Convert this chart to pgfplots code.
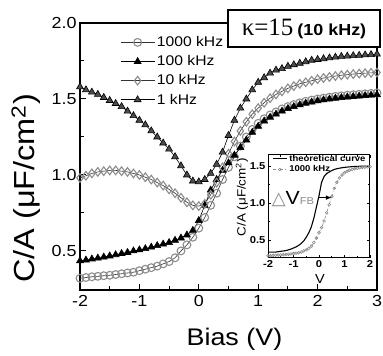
\documentclass[border=0pt]{standalone}
\usepackage{pgfplots}
\pgfplotsset{compat=1.18}
\usepackage{fontspec}
\setmainfont{Liberation Sans}[FakeStretch=1.12]
\newfontfamily\seriffont{Liberation Serif}
\newfontfamily\symfont{DejaVu Sans}
\begin{document}
\begin{tikzpicture}
\useasboundingbox (0,0) rectangle (383pt,356pt);
\begin{axis}[
  at={(80pt,66pt)}, anchor=south west, scale only axis,
  width=297pt, height=267pt,
  xmin=-2, xmax=3, ymin=0.243, ymax=2.0,
  xtick={-2,-1,0,1,2,3}, minor xtick={-1.5,-0.5,0.5,1.5,2.5},
  ytick={0.5,1.0,1.5,2.0}, minor ytick={0.75,1.25,1.75},
  xtick pos=bottom, ytick pos=left, tick align=inside,
  major tick length=6pt, minor tick length=4pt,
  tick style={black, line width=1pt},
  axis line style={line width=1.3pt},
  /pgf/number format/assume math mode=true,
  yticklabel style={/pgf/number format/fixed, /pgf/number format/fixed zerofill, /pgf/number format/precision=1},
  tick label style={font=\fontsize{16}{16}\selectfont},
  xticklabel style={yshift=-2pt},
  xlabel={Bias (V)},
  ylabel={C/A (μF/cm\textsuperscript{2})},
  xlabel style={font=\fontsize{24}{24}\selectfont, at={(axis description cs:0.52,-0.185)}, anchor=center},
  ylabel style={font=\fontsize{29}{29}\selectfont, at={(axis description cs:-0.182,0.38)}, anchor=center},
  legend cell align=left,
  legend style={at={(axis description cs:0.125,0.965)}, anchor=north west, draw=none, fill=none,
    font=\fontsize{14}{20}\selectfont, row sep=3.5pt},
  legend image code/.code={\draw[mark repeat=2,mark phase=2,#1] plot coordinates {(0pt,0pt) (17pt,0pt) (34pt,0pt)};},
]
% 1000 kHz
\addplot[black!80, line width=0.6pt, mark=o, mark size=3.9pt, mark options={draw=black!45, fill=white, line width=1.1pt}] coordinates {
(-2.0,0.32)(-1.9,0.325)(-1.8,0.33)(-1.7,0.333)(-1.6,0.337)(-1.5,0.34)(-1.4,0.345)(-1.3,0.35)(-1.2,0.355)(-1.1,0.36)
(-1.0,0.37)(-0.9,0.38)(-0.8,0.39)(-0.7,0.40)(-0.6,0.415)(-0.5,0.43)(-0.4,0.455)(-0.3,0.50)(-0.2,0.54)(-0.1,0.59)
(0.0,0.65)(0.1,0.72)(0.2,0.80)(0.3,0.88)(0.4,0.97)(0.5,1.05)(0.6,1.12)(0.7,1.19)(0.8,1.25)(0.9,1.30)
(1.0,1.34)(1.1,1.37)(1.2,1.395)(1.3,1.415)(1.4,1.435)(1.5,1.45)(1.6,1.463)(1.7,1.475)(1.8,1.485)(1.9,1.493)
(2.0,1.50)(2.1,1.506)(2.2,1.512)(2.3,1.517)(2.4,1.521)(2.5,1.525)(2.6,1.528)(2.7,1.531)(2.8,1.534)(2.9,1.537)(3.0,1.54)
};
\addlegendentry{1000 kHz}
% 100 kHz
\addplot[black, line width=0.6pt, mark=triangle*, mark size=4pt, mark options={fill=black}] coordinates {
(-2.0,0.435)(-1.9,0.44)(-1.8,0.447)(-1.7,0.453)(-1.6,0.46)(-1.5,0.467)(-1.4,0.475)(-1.3,0.483)(-1.2,0.49)(-1.1,0.50)
(-1.0,0.507)(-0.9,0.515)(-0.8,0.525)(-0.7,0.535)(-0.6,0.545)(-0.5,0.555)(-0.4,0.57)(-0.3,0.585)(-0.2,0.605)(-0.1,0.635)
(0.0,0.70)(0.1,0.80)(0.2,0.90)(0.3,0.97)(0.4,1.03)(0.5,1.08)(0.6,1.13)(0.7,1.18)(0.8,1.23)(0.9,1.28)
(1.0,1.32)(1.1,1.355)(1.2,1.38)(1.3,1.40)(1.4,1.42)(1.5,1.437)(1.6,1.45)(1.7,1.462)(1.8,1.472)(1.9,1.48)
(2.0,1.488)(2.1,1.494)(2.2,1.50)(2.3,1.505)(2.4,1.509)(2.5,1.513)(2.6,1.516)(2.7,1.519)(2.8,1.522)(2.9,1.525)(3.0,1.528)
};
\addlegendentry{100 kHz}
% 10 kHz
\addplot[black!80, line width=0.6pt, mark=diamond, mark size=4.3pt, mark options={draw=black!45, fill=white, line width=1.1pt}] coordinates {
(-2.0,0.98)(-1.9,0.995)(-1.8,1.01)(-1.7,1.02)(-1.6,1.025)(-1.5,1.03)(-1.4,1.03)(-1.3,1.025)(-1.2,1.02)(-1.1,1.01)
(-1.0,1.0)(-0.9,0.985)(-0.8,0.97)(-0.7,0.95)(-0.6,0.93)(-0.5,0.905)(-0.4,0.88)(-0.3,0.85)(-0.2,0.82)(-0.1,0.80)
(0.0,0.795)(0.1,0.81)(0.2,0.87)(0.3,0.95)(0.4,1.05)(0.5,1.14)(0.6,1.22)(0.7,1.29)(0.8,1.35)(0.9,1.40)
(1.0,1.44)(1.1,1.475)(1.2,1.505)(1.3,1.53)(1.4,1.55)(1.5,1.57)(1.6,1.585)(1.7,1.60)(1.8,1.61)(1.9,1.62)
(2.0,1.63)(2.1,1.638)(2.2,1.645)(2.3,1.651)(2.4,1.656)(2.5,1.66)(2.6,1.664)(2.7,1.667)(2.8,1.67)(2.9,1.672)(3.0,1.674)
};
\addlegendentry{10 kHz}
% 1 kHz
\addplot[black, line width=0.6pt, mark=triangle*, mark size=4pt, mark options={fill=black!70, draw=black}] coordinates {
(-2.0,1.58)(-1.9,1.56)(-1.8,1.545)(-1.7,1.53)(-1.6,1.51)(-1.5,1.49)(-1.4,1.47)(-1.3,1.45)(-1.2,1.42)(-1.1,1.39)
(-1.0,1.36)(-0.9,1.33)(-0.8,1.29)(-0.7,1.25)(-0.6,1.21)(-0.5,1.17)(-0.4,1.12)(-0.3,1.06)(-0.2,1.00)(-0.1,0.96)
(0.0,0.955)(0.1,0.97)(0.2,1.01)(0.3,1.07)(0.4,1.15)(0.5,1.26)(0.6,1.36)(0.7,1.44)(0.8,1.50)(0.9,1.56)
(1.0,1.61)(1.1,1.64)(1.2,1.67)(1.3,1.69)(1.4,1.70)(1.5,1.715)(1.6,1.725)(1.7,1.735)(1.8,1.745)(1.9,1.755)
(2.0,1.76)(2.1,1.765)(2.2,1.77)(2.3,1.775)(2.4,1.78)(2.5,1.782)(2.6,1.785)(2.7,1.787)(2.8,1.79)(2.9,1.792)(3.0,1.795)
};
\addlegendentry{1 kHz}
\end{axis}

\node[draw, line width=1.3pt, fill=white, minimum width=152pt, minimum height=37pt, inner sep=0pt]
  at (304pt,327.5pt) {{\seriffont\fontsize{25}{25}\selectfont κ=15}\hspace{4pt}{\bfseries\fontsize{16}{16}\selectfont (10 kHz)}};

\begin{axis}[
  at={(268pt,98pt)}, anchor=south west, scale only axis,
  width=102pt, height=103pt,
  xmin=-2, xmax=2, ymin=0.26, ymax=1.65,
  xtick={-2,-1,0,1,2}, minor xtick={-1.5,-0.5,0.5,1.5},
  ytick={0.5,1.0,1.5}, minor ytick={0.75,1.25},
  tick align=inside, major tick length=3pt, minor tick length=2pt,
  tick style={black, line width=0.7pt},
  axis line style={line width=1pt},
  axis background/.style={fill=white},
  /pgf/number format/assume math mode=true,
  yticklabel style={xshift=1pt, /pgf/number format/fixed, /pgf/number format/fixed zerofill, /pgf/number format/precision=1},
  tick label style={font=\bfseries\fontsize{10}{10}\selectfont},
  xticklabel style={yshift=1pt},
  xlabel={V},
  ylabel={C/A (μF/cm\textsuperscript{2})},
  xlabel style={font=\fontsize{13}{13}\selectfont, at={(axis description cs:0.51,-0.2)}, anchor=center},
  ylabel style={font=\fontsize{12}{12}\selectfont, at={(axis description cs:-0.255,0.59)}, anchor=center},
  legend cell align=left,
  legend style={at={(axis description cs:0.03,1.03)}, anchor=north west, draw=none, fill=none,
    font=\bfseries\fontsize{8.5}{10}\selectfont, inner sep=1pt, row sep=-1pt},
  legend image code/.code={\draw[mark repeat=2,mark phase=2,#1] plot coordinates {(0pt,0pt) (7pt,0pt) (14pt,0pt)};},
]
\addplot[black, line width=1.1pt, no marks] coordinates {
(-2.0,0.34)(-1.9,0.34)(-1.8,0.34)(-1.7,0.34)(-1.6,0.345)(-1.5,0.35)(-1.4,0.355)(-1.3,0.36)(-1.2,0.37)(-1.1,0.38)
(-1.0,0.395)(-0.9,0.41)(-0.8,0.43)(-0.7,0.455)(-0.6,0.49)(-0.5,0.54)(-0.4,0.60)(-0.3,0.68)(-0.2,0.80)(-0.1,0.95)
(0.0,1.10)(0.1,1.28)(0.2,1.36)(0.3,1.40)(0.4,1.42)(0.5,1.44)(0.6,1.455)(0.7,1.465)(0.8,1.472)(0.9,1.478)
(1.0,1.483)(1.2,1.49)(1.4,1.495)(1.6,1.498)(1.8,1.50)(2.0,1.50)
};
\addlegendentry{theoretical curve}
\addplot[black!45, line width=0.6pt, dash dot, mark=o, mark size=1.4pt, mark options={solid, draw=black!45, line width=0.6pt}] coordinates {
(-2.0,0.29)(-1.9,0.292)(-1.8,0.295)(-1.7,0.297)(-1.6,0.30)(-1.5,0.302)(-1.4,0.305)(-1.3,0.307)(-1.2,0.31)(-1.1,0.315)
(-1.0,0.32)(-0.9,0.325)(-0.8,0.33)(-0.7,0.34)(-0.6,0.355)(-0.5,0.37)(-0.4,0.39)(-0.3,0.42)(-0.2,0.47)(-0.1,0.53)
(0.0,0.60)(0.1,0.67)(0.2,0.76)(0.3,0.87)(0.4,0.98)(0.5,1.09)(0.6,1.20)(0.7,1.28)(0.8,1.34)(0.9,1.38)
(1.0,1.41)(1.1,1.43)(1.2,1.445)(1.3,1.455)(1.4,1.465)(1.5,1.472)(1.6,1.478)(1.7,1.483)(1.8,1.487)(1.9,1.49)(2.0,1.492)
};
\addlegendentry{1000 kHz}
\draw[black, line width=1pt, -latex] (axis cs:0.0,1.075) -- (axis cs:0.5,1.075);
\node[anchor=base west, inner sep=0pt] at (axis cs:-1.86,0.98)
  {{\symfont\color{black!45}\fontsize{18}{18}\selectfont △}{\fontsize{19}{19}\selectfont V}{\color{black!45}\fontsize{10}{10}\selectfont FB}};
\end{axis}
\end{tikzpicture}
\end{document}
